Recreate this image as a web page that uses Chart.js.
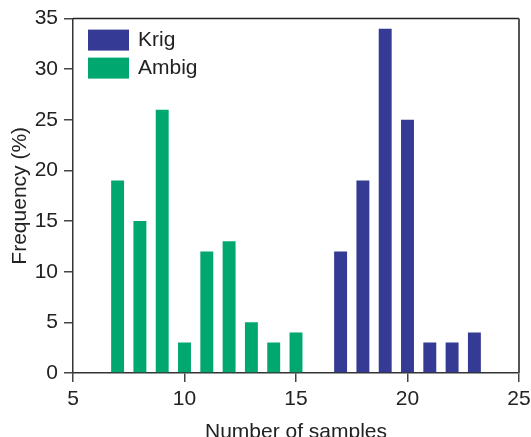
<!DOCTYPE html>
<html>
<head>
<meta charset="utf-8">
<script src="https://cdn.jsdelivr.net/npm/chart.js@4.4.0/dist/chart.umd.min.js"></script>
<style>
  html, body { margin: 0; padding: 0; background: #fff; }
  #wrap { width: 531px; height: 437px; }
</style>
</head>
<body>
<div id="wrap"><canvas id="histChart" width="531" height="437"></canvas></div>
<script>
var krigSamples = [17, 18, 19, 20, 21, 22, 23];
var krigFreq = [12, 19, 34, 25, 3, 3, 4];
var ambigSamples = [7, 8, 9, 10, 11, 12, 13, 14, 15];
var ambigFreq = [19, 15, 26, 3, 12, 13, 5, 3, 4];
var xTicks = [5, 10, 15, 20, 25];
var yTicks = [0, 5, 10, 15, 20, 25, 30, 35];

var fontFamily = '"Liberation Sans", Arial, sans-serif';

// box around plot + legend inside top-left
var boxAndLegend = {
    id: 'boxAndLegend',
    afterDatasetsDraw: function(chart) {
        var ctx = chart.ctx;
        var a = chart.chartArea;
        ctx.save();
        ctx.strokeStyle = '#222';
        ctx.lineWidth = 1.5;
        ctx.beginPath();
        ctx.moveTo(a.left, a.top);
        ctx.lineTo(a.right, a.top);
        ctx.stroke();
        ctx.strokeStyle = '#555';
        ctx.lineWidth = 2;
        ctx.beginPath();
        ctx.moveTo(a.right, a.top);
        ctx.lineTo(a.right, a.bottom);
        ctx.stroke();

        ctx.font = '21px ' + fontFamily;
        ctx.textBaseline = 'middle';
        chart.data.datasets.forEach(function(ds, i) {
            var y = a.top + 11 + i * 28;
            ctx.fillStyle = ds.backgroundColor;
            ctx.fillRect(a.left + 15, y, 41, 21);
            ctx.fillStyle = '#222';
            ctx.fillText(ds.label, a.left + 65, y + 11);
        });
        ctx.restore();
    }
};

new Chart(document.getElementById('histChart'), {
    type: 'bar',
    data: {
        datasets: [{
            label: 'Krig',
            data: krigSamples.map((x, i) => ({ x: x, y: krigFreq[i] })),
            backgroundColor: '#353a94'
        }, {
            label: 'Ambig',
            data: ambigSamples.map((x, i) => ({ x: x, y: ambigFreq[i] })),
            backgroundColor: '#00a870'
        }]
    },
    options: {
        responsive: false,
        animation: false,
        grouped: false,
        categoryPercentage: 1,
        barPercentage: 0.58,
        layout: { padding: { top: 18, right: 0, left: 0, bottom: 0 } },
        plugins: {
            legend: { display: false },
            tooltip: { enabled: false }
        },
        scales: {
            x: {
                type: 'linear',
                offset: false,
                min: 5,
                max: 25,
                afterBuildTicks: function(axis) {
                    axis.ticks = xTicks.map(v => ({ value: v }));
                },
                afterFit: function(axis) {
                    axis.height = 64;
                    axis.paddingRight = 12;
                },
                grid: {
                    offset: false,
                    drawOnChartArea: false,
                    drawTicks: true,
                    tickLength: 9,
                    color: '#444',
                    lineWidth: 1.5
                },
                border: { color: '#333', width: 1.5 },
                ticks: {
                    color: '#222',
                    padding: 5,
                    maxRotation: 0,
                    font: { family: fontFamily, size: 21 }
                },
                title: {
                    display: true,
                    text: 'Number of samples',
                    color: '#222',
                    padding: { top: 0, bottom: -8 },
                    font: { family: fontFamily, size: 21 }
                }
            },
            y: {
                min: 0,
                max: 35,
                afterBuildTicks: function(axis) {
                    axis.ticks = yTicks.map(v => ({ value: v }));
                },
                afterFit: function(axis) { axis.width = 73; },
                grid: {
                    drawOnChartArea: false,
                    drawTicks: true,
                    tickLength: 9,
                    color: '#444',
                    lineWidth: 1.5
                },
                border: { color: '#333', width: 1.5 },
                ticks: {
                    color: '#222',
                    padding: 6,
                    font: { family: fontFamily, size: 21 }
                },
                title: {
                    display: true,
                    text: 'Frequency (%)',
                    color: '#222',
                    padding: { top: 8, bottom: 0 },
                    font: { family: fontFamily, size: 21 }
                }
            }
        }
    },
    plugins: [boxAndLegend]
});
</script>
</body>
</html>
